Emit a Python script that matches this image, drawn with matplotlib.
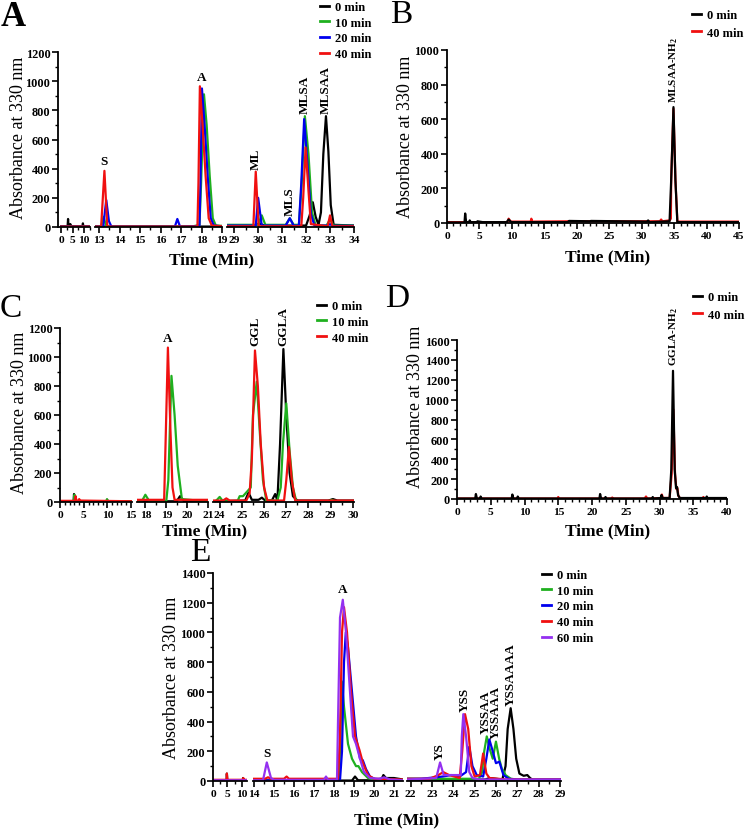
import matplotlib
matplotlib.use("Agg")
import matplotlib.pyplot as plt
from matplotlib.ticker import MultipleLocator

plt.rcParams['font.family'] = ['Liberation Serif', 'DejaVu Serif']
plt.rcParams['font.weight'] = 'bold'
plt.rcParams['mathtext.fontset'] = 'custom'
plt.rcParams['mathtext.rm'] = 'Liberation Serif:bold'

W, H = 745, 837
BLACK, GREEN, BLUE, RED, PURPLE = '#000000', '#1fb01f', '#0000ee', '#f01010', '#9430f0'

# ---- Panel A (time in min, absorbance) ----
A_T_0 = [0, 2.8, 3.0, 3.2, 3.8, 4.0, 4.2, 9.3, 9.5, 9.7, 12, 13, 19, 28.7, 29.85, 30.05, 30.25,
         32.0, 32.15, 32.28, 32.4, 32.52, 32.62, 32.72, 32.83, 32.93, 33.03, 33.15, 34.0]
A_Y_0 = [5, 5, 55, 5, 5, 20, 5, 5, 25, 5, 5, 3, 3, 10, 10, 25, 10,
         10, 80, 170, 70, 15, 100, 500, 760, 520, 150, 15, 10]
A_T_10 = [0, 13.1, 13.22, 13.35, 13.5, 17.6, 17.9, 17.98, 18.12, 18.25, 18.4, 18.55, 18.7, 19,
          28.7, 30.0, 30.15, 30.3, 31.15, 31.32, 31.48, 31.7, 31.82, 31.95, 32.1, 32.25, 32.4,
          32.85, 33.0, 33.15, 34.0]
A_Y_10 = [3, 3, 70, 5, 3, 5, 15, 300, 910, 700, 350, 60, 10, 8,
          15, 15, 80, 15, 15, 60, 15, 15, 300, 760, 500, 100, 10,
          10, 50, 10, 10]
A_T_20 = [0, 13.2, 13.35, 13.48, 13.6, 16.7, 16.82, 16.95, 17.9, 17.95, 18.02, 18.15, 18.3, 18.45,
          18.6, 19, 28.7, 29.9, 30.0, 30.15, 31.15, 31.32, 31.48, 31.7, 31.8, 31.92, 32.05, 32.2,
          32.35, 32.9, 33.0, 33.1, 34.0]
A_Y_20 = [3, 3, 185, 40, 3, 3, 55, 3, 5, 300, 950, 700, 350, 60,
          10, 5, 10, 10, 200, 10, 10, 60, 10, 10, 300, 740, 450, 90,
          10, 10, 20, 8, 8]
A_T_40 = [0, 13.1, 13.26, 13.4, 17.8, 17.85, 17.92, 18.05, 18.2, 18.35, 18.5, 19, 28.7, 29.8,
          29.9, 30.02, 31.8, 31.88, 31.98, 32.1, 32.2, 32.9, 33.0, 33.1, 34.0]
A_Y_40 = [3, 3, 385, 3, 3, 300, 965, 700, 350, 60, 10, 5, 5, 5,
          380, 5, 5, 200, 545, 250, 20, 5, 80, 5, 5]

# ---- Panel B ----
B_T_0 = [0, 2.7, 2.8, 2.95, 3.4, 3.5, 3.65, 4.6, 4.7, 5.5, 9.2, 9.5, 9.9, 18.6, 18.8, 22, 22.2,
         30.8, 31.0, 31.2, 34.3, 34.55, 34.9, 35.2, 35.5, 45]
B_Y_0 = [3, 3, 55, 5, 5, 15, 5, 5, 10, 5, 5, 20, 5, 5, 12, 10, 12,
         8, 15, 5, 10, 250, 670, 250, 5, 5]
B_T_40 = [0, 9.3, 9.5, 9.8, 12.9, 13.0, 13.1, 19, 25, 32.8, 33.0, 33.2, 34.3, 34.5, 34.55, 34.9,
          35.2, 35.5, 45]
B_Y_40 = [5, 5, 25, 8, 8, 25, 8, 10, 10, 10, 20, 10, 15, 25, 250, 660,
          250, 8, 8]

# ---- Panel C ----
C_T_0 = [0, 2.8, 2.9, 3.05, 5, 9.8, 10.0, 10.2, 15.3, 17.6, 19.5, 19.66, 19.85, 21, 23.7, 25.15,
         25.3, 25.45, 25.75, 25.9, 26.05, 26.35, 26.5, 26.6, 26.72, 26.87, 27.0, 27.15, 27.3, 27.5,
         28.9, 29.1, 29.3, 30.05]
C_Y_0 = [5, 5, 55, 5, 5, 5, 15, 5, 5, 5, 5, 40, 5, 5, 5, 10,
         65, 15, 15, 30, 10, 10, 55, 10, 400, 1055, 600, 200, 40, 10,
         10, 20, 10, 10]
C_T_10 = [0, 2.85, 3.0, 3.15, 5, 9.8, 9.95, 10.1, 15.3, 17.6, 17.85, 18.0, 18.2, 19.0, 19.1,
          19.25, 19.4, 19.55, 19.75, 21, 23.7, 23.85, 24.0, 24.15, 24.8, 24.9, 25.05, 25.4, 25.5,
          25.67, 25.8, 25.95, 26.1, 26.6, 26.75, 26.85, 27.0, 27.15, 27.3, 27.45, 28.9, 29.05,
          29.2, 30.05]
C_Y_10 = [3, 3, 50, 5, 5, 3, 20, 3, 3, 3, 10, 50, 3, 3, 150,
          870, 600, 250, 20, 3, 3, 10, 35, 5, 5, 40, 40, 100, 600,
          830, 500, 150, 10, 10, 100, 400, 680, 350, 100, 5, 5, 15,
          5, 5]
C_T_40 = [0, 3.1, 3.25, 3.4, 3.9, 4.0, 4.2, 15.3, 17.6, 18.9, 18.95, 19.08, 19.2, 19.3, 19.4, 21,
          23.7, 24.15, 24.3, 24.45, 25.2, 25.35, 25.45, 25.59, 25.72, 25.85, 26.0, 26.15, 26.9,
          27.0, 27.12, 27.25, 27.4, 30.05]
C_Y_40 = [8, 8, 40, 10, 10, 20, 10, 5, 15, 15, 300, 1065, 500, 100, 15, 15,
          10, 10, 25, 10, 10, 60, 300, 1045, 800, 400, 100, 10, 10,
          150, 380, 150, 10, 10]

# ---- Panel D ----
D_T_0 = [0, 2.7, 2.8, 2.95, 3.4, 3.5, 3.65, 8.1, 8.2, 8.35, 8.9, 9.0, 9.15, 21.1, 21.2, 21.35,
         21.9, 22.0, 22.15, 28.9, 29.0, 29.1, 30.2, 30.3, 30.45, 31.5, 31.75, 32.0, 32.25, 32.45,
         32.6, 32.75, 33.0, 36.9, 37.0, 37.1, 40]
D_Y_0 = [5, 5, 50, 5, 5, 25, 5, 5, 45, 5, 5, 25, 5, 5, 50, 5,
         5, 20, 5, 5, 20, 5, 10, 40, 10, 10, 300, 1290, 300, 110,
         120, 40, 10, 10, 25, 10, 10]
D_T_40 = [0, 14.9, 15.0, 15.1, 22.9, 23.0, 23.1, 27.8, 28.0, 28.2, 30.2, 30.35, 30.5, 31.5, 31.8,
          32.05, 32.3, 32.5, 32.65, 32.8, 33.1, 36.4, 36.5, 36.6, 40]
D_Y_40 = [5, 5, 20, 5, 5, 15, 5, 5, 25, 5, 10, 45, 10, 10, 250,
          900, 250, 100, 110, 30, 5, 5, 20, 5, 5]

# ---- Panel E ----
E_T_0 = [0, 4.7, 4.8, 4.95, 10.4, 10.5, 10.65, 12, 13.95, 18.9, 19.05, 19.2, 20.35, 20.47, 20.6,
         21.0, 21.45, 21.83, 25.5, 25.7, 26.3, 26.45, 26.55, 26.69, 26.82, 26.95, 27.1, 27.3,
         27.47, 27.6, 27.75, 29.05]
E_Y_0 = [5, 5, 50, 5, 5, 20, 5, 5, 3, 3, 30, 5, 5, 40, 20,
         20, 10, 5, 10, 20, 10, 100, 350, 490, 350, 150, 50, 35,
         40, 20, 5, 5]
E_T_10 = [0, 12, 13.95, 18.25, 18.32, 18.39, 18.5, 18.7, 18.9, 19.1, 19.22, 19.4, 19.7, 20.0,
          20.8, 21.45, 21.83, 25.2, 25.35, 25.45, 25.57, 25.7, 25.85, 26.0, 26.15, 26.3, 26.35,
          26.45, 26.7, 27.0, 29.05]
E_Y_10 = [3, 3, 5, 5, 300, 670, 500, 250, 150, 100, 100, 60, 20, 10,
          5, 5, 15, 15, 60, 200, 300, 220, 150, 265, 150, 70, 70,
          40, 15, 10, 10]
E_T_20 = [0, 12, 13.95, 18.3, 18.4, 18.5, 18.59, 18.7, 18.9, 19.1, 19.3, 19.44, 19.6, 19.8, 20.1,
          20.5, 20.8, 21.45, 21.83, 22.5, 23.5, 23.9, 24.3, 24.6, 24.75, 24.9, 25.1, 25.4, 25.55,
          25.69, 25.85, 26.0, 26.16, 26.35, 26.6, 27.0, 29.05]
E_Y_20 = [3, 3, 5, 5, 200, 800, 1000, 900, 600, 300, 150, 140, 80, 30, 10,
          20, 10, 5, 15, 15, 30, 40, 30, 60, 230, 100, 40, 30, 150,
          280, 200, 120, 130, 40, 15, 10, 10]
E_T_40 = [0, 4.7, 4.8, 4.95, 10.5, 10.6, 10.75, 12, 13.95, 14.55, 14.7, 14.85, 15.5, 15.63,
          15.75, 18.2, 18.3, 18.4, 18.5, 18.65, 18.85, 19.05, 19.27, 19.45, 19.7, 20.0, 21.45,
          21.83, 22.9, 23.3, 23.53, 23.8, 24.3, 24.42, 24.55, 24.7, 24.85, 25.0, 25.25, 25.4,
          25.55, 25.7, 26.5, 29.05]
E_Y_40 = [8, 8, 50, 8, 8, 20, 8, 8, 15, 15, 25, 15, 15, 30,
          15, 15, 300, 1000, 1170, 1000, 600, 300, 210, 120, 40, 15, 10,
          15, 15, 40, 60, 40, 20, 200, 450, 350, 100, 30, 40, 185,
          50, 20, 10, 10]
E_T_60 = [0, 12, 13.95, 14.45, 14.64, 14.85, 15.0, 17.5, 17.6, 17.7, 18.15, 18.2, 18.3, 18.44,
          18.6, 18.8, 18.95, 19.1, 19.3, 19.5, 19.8, 20.3, 20.5, 20.8, 21.45, 21.83, 23.2, 23.38,
          23.55, 24.35, 24.4, 24.47, 24.6, 24.75, 24.9, 25.2, 26.0, 29.05]
E_Y_60 = [5, 5, 5, 5, 125, 20, 8, 8, 30, 8, 10, 400, 1100, 1220,
          1000, 600, 300, 250, 150, 60, 20, 15, 25, 10, 5, 10, 20, 125,
          40, 40, 300, 450, 300, 60, 20, 10, 10, 10]

fig = plt.figure(figsize=(W / 100, H / 100), dpi=100)


def add_ax(left, right, top, bottom):
    return fig.add_axes([left / W, 1 - bottom / H, (right - left) / W, (bottom - top) / H])


def style(ax, xlim, xmajor, xminor, ylim, ymajor, first):
    ax.set_xlim(*xlim)
    ax.set_ylim(*ylim)
    ax.xaxis.set_major_locator(MultipleLocator(xmajor))
    ax.xaxis.set_minor_locator(MultipleLocator(xminor))
    ax.yaxis.set_major_locator(MultipleLocator(ymajor))
    ax.yaxis.set_minor_locator(MultipleLocator(ymajor / 2))
    ax.spines['top'].set_visible(False)
    ax.spines['right'].set_visible(False)
    for s in ax.spines.values():
        s.set_linewidth(1.3)
    ax.tick_params(which='major', length=4, width=1.2, pad=1.5)
    ax.tick_params(axis='x', labelsize=8.2)
    ax.tick_params(axis='y', labelsize=8.8)
    ax.tick_params(which='minor', length=2.2, width=1.0)
    ax.patch.set_alpha(0)
    if not first:
        ax.spines['left'].set_visible(False)
        ax.tick_params(axis='y', which='both', left=False, labelleft=False)


def draw(axes, series):
    for ax in axes:
        for t, y, c in series:
            ax.plot(t, y, color=c, lw=1.6)


def legend(ax, colors, labels, x, y, spacing=0.3):
    handles = [plt.Line2D([], [], color=c, lw=2) for c in colors]
    ax.legend(handles, labels, loc='upper left', bbox_to_anchor=(x / W, 1 - y / H),
              bbox_transform=fig.transFigure, frameon=False, handlelength=0.7,
              handletextpad=0.5, labelspacing=spacing, borderpad=0, borderaxespad=0,
              prop=dict(size=9, weight='bold'))


def peak_label(ax, x, y, txt, rot=90, size=9.5):
    ax.text(x, y, txt, rotation=rot, ha='center', va='bottom', fontsize=size,
            fontweight='bold', clip_on=False)


def fig_text(x, y, txt, **kw):
    fig.text(x / W, 1 - y / H, txt, **kw)


YLAB = dict(rotation=90, ha='center', va='center', fontsize=13, fontweight='normal')
XLAB = dict(ha='center', va='center', fontsize=12.5)

# ----- A -----
a1 = add_ax(58, 90, 53, 228)
a2 = add_ax(95, 222, 53, 228)
a3 = add_ax(227, 354, 53, 228)
style(a1, (-1.4, 12.6), 5, 2.5, (0, 1200), 200, True)
style(a2, (12.8, 19), 1, 0.5, (0, 1200), 200, False)
style(a3, (28.7, 34.0), 1, 0.5, (0, 1200), 200, False)
draw([a1, a2, a3], [(A_T_0, A_Y_0, BLACK), (A_T_10, A_Y_10, GREEN),
                    (A_T_20, A_Y_20, BLUE), (A_T_40, A_Y_40, RED)])
peak_label(a2, 13.26, 410, 'S', rot=0)
peak_label(a2, 18.0, 990, 'A', rot=0)
peak_label(a3, 29.9, 400, 'ML')
peak_label(a3, 31.32, 80, 'MLS')
peak_label(a3, 31.95, 780, 'MLSA')
peak_label(a3, 32.83, 780, 'MLSAA')
legend(a3, [BLACK, GREEN, BLUE, RED], ['0 min', '10 min', '20 min', '40 min'], 320, 2)
fig_text(19, 138, 'Absorbance at 330 nm', **YLAB)
fig_text(212, 260, 'Time (Min)', **XLAB)
fig_text(1, 17, 'A', ha='left', va='center', fontsize=25)

# ----- B -----
b1 = add_ax(447, 739, 51, 224)
style(b1, (0, 45), 5, 1, (0, 1000), 200, True)
draw([b1], [(B_T_40, B_Y_40, RED), (B_T_0, B_Y_0, BLACK)])
peak_label(b1, 34.95, 700, 'MLSAA-NH$_2$', size=8)
legend(b1, [BLACK, RED], ['0 min', '40 min'], 692, 10, spacing=0.45)
fig_text(406, 137, 'Absorbance at 330 nm', **YLAB)
fig_text(608, 257, 'Time (Min)', **XLAB)
fig_text(390, 15, 'B', ha='left', va='center', fontsize=24, fontweight='normal')

# ----- C -----
c1 = add_ax(60, 132, 329, 503)
c2 = add_ax(137, 208, 329, 503)
c3 = add_ax(213, 354, 329, 503)
style(c1, (-0.1, 15.3), 5, 1, (0, 1200), 200, True)
style(c2, (17.6, 21.0), 1, 0.5, (0, 1200), 200, False)
style(c3, (23.7, 30.05), 1, 0.5, (0, 1200), 200, False)
draw([c1, c2, c3], [(C_T_0, C_Y_0, BLACK), (C_T_10, C_Y_10, GREEN), (C_T_40, C_Y_40, RED)])
peak_label(c2, 19.08, 1090, 'A', rot=0)
peak_label(c3, 25.59, 1080, 'GGL')
peak_label(c3, 26.87, 1080, 'GGLA')
legend(c3, [BLACK, GREEN, RED], ['0 min', '10 min', '40 min'], 317, 301)
fig_text(20, 413, 'Absorbance at 330 nm', **YLAB)
fig_text(205, 531, 'Time (Min)', **XLAB)
fig_text(0, 309, 'C', ha='left', va='center', fontsize=24, fontweight='normal')

# ----- D -----
d1 = add_ax(457, 727, 341, 500)
style(d1, (0, 40), 5, 1, (0, 1600), 200, True)
draw([d1], [(D_T_40, D_Y_40, RED), (D_T_0, D_Y_0, BLACK)])
peak_label(d1, 32.1, 1350, 'GGLA-NH$_2$', size=8)
legend(d1, [BLACK, RED], ['0 min', '40 min'], 693, 292, spacing=0.45)
fig_text(416, 407, 'Absorbance at 330 nm', **YLAB)
fig_text(608, 531, 'Time (Min)', **XLAB)
fig_text(385, 299, 'D', ha='left', va='center', fontsize=24, fontweight='normal')

# ----- E -----
e1 = add_ax(213, 247, 574, 782)
e2 = add_ax(253, 403, 574, 782)
e3 = add_ax(407, 561, 574, 782)
style(e1, (-0.1, 11.9), 5, 2.5, (0, 1400), 200, True)
style(e2, (13.95, 21.45), 1, 0.5, (0, 1400), 200, False)
style(e3, (21.83, 29.05), 1, 0.5, (0, 1400), 200, False)
draw([e1, e2, e3], [(E_T_0, E_Y_0, BLACK), (E_T_10, E_Y_10, GREEN), (E_T_20, E_Y_20, BLUE),
                    (E_T_40, E_Y_40, RED), (E_T_60, E_Y_60, PURPLE)])
peak_label(e2, 14.64, 150, 'S', rot=0)
peak_label(e2, 18.44, 1250, 'A', rot=0)
peak_label(e3, 23.38, 150, 'YS')
peak_label(e3, 24.55, 470, 'YSS')
peak_label(e3, 25.5, 320, 'YSSAA')
peak_label(e3, 26.0, 290, 'YSSAAA')
peak_label(e3, 26.69, 510, 'YSSAAAA')
legend(e3, [BLACK, GREEN, BLUE, RED, PURPLE],
       ['0 min', '10 min', '20 min', '40 min', '60 min'], 542, 570)
fig_text(172, 678, 'Absorbance at 330 nm', **YLAB)
fig_text(397, 820, 'Time (Min)', **XLAB)
fig_text(190, 553, 'E', ha='left', va='center', fontsize=24, fontweight='normal')

fig.savefig('out.png', dpi=100)
